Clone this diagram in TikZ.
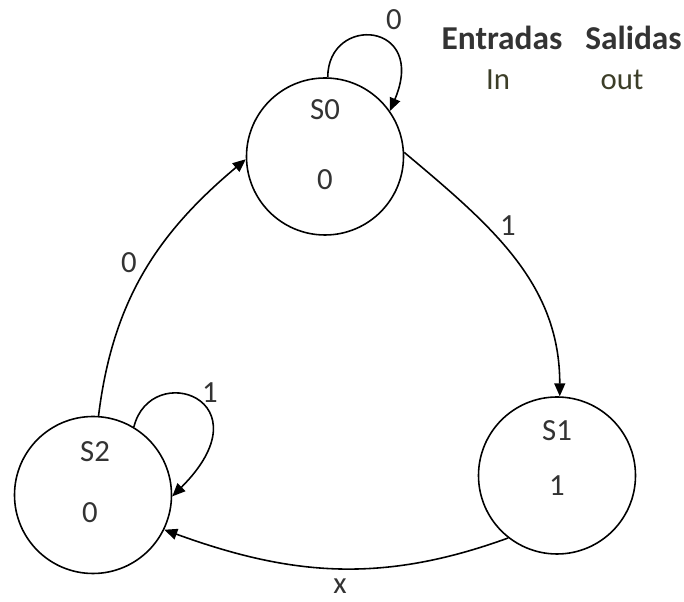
\documentclass[tikz,border=0pt]{standalone}
\usepackage{fontspec}
\setmainfont{Carlito}
\usetikzlibrary{arrows.meta}
\tikzset{
  state/.style={draw, circle, line width=0.9pt, minimum size=3.14cm, inner sep=0pt},
  txt/.style={text=black!80, font=\fontsize{17.5}{20}\selectfont, inner sep=1pt},
  head/.style={txt, font=\fontsize{19}{22}\selectfont\bfseries},
  edge/.style={line width=0.9pt, -{Triangle[length=2.6mm,width=2.2mm]}}
}
\begin{document}
\begin{tikzpicture}
	\useasboundingbox (0,0) rectangle (13.68,12.04);
	% estados
	\node[state] (s0) at (6.5,8.91) {};
	\node[state] (s1) at (11.14,2.53) {};
	\node[state] (s2) at (1.86,2.14) {};
	\node[txt] (s0name) at ([yshift=0.93cm]s0.center) {S0};
	\node[txt] (s0out) at ([yshift=-0.47cm]s0.center) {0};
	\node[txt] (s1name) at ([yshift=0.9cm]s1.center) {S1};
	\node[txt] (s1out) at ([yshift=-0.2cm]s1.center) {1};
	\node[txt] (s2name) at ([xshift=0.04cm,yshift=0.87cm]s2.center) {S2};
	\node[txt] (s2out) at ([xshift=-0.06cm,yshift=-0.36cm]s2.center) {0};
	% transiciones
	\draw[edge] (s0.88) .. controls +(0,1.26) and +(0.76,1.8) .. (s0.35);
	\draw[edge] (s0.3) to[out=-40,in=90] (s1.88);
	\draw[edge] (s1.-128) to[out=-160,in=-20] (s2.-26);
	\draw[edge] (s2.86) to[out=83,in=220] (s0.182);
	\draw[edge] (s2.59) .. controls +(0.34,1.36) and +(1.94,1.94) .. (s2.-1);
	% etiquetas
	\node[txt] (l00) at (7.88,11.64) {0};
	\node[txt] (l01) at (10.16,7.52) {1};
	\node[txt] (l12) at (6.8,0.32) {x};
	\node[txt] (l20) at (2.58,6.78) {0};
	\node[txt] (l22) at (4.2,4.18) {1};
	% tabla
	\node[head] (hin) at (10.04,11.28) {Entradas};
	\node[head] (hout) at (12.67,11.28) {Salidas};
	\node[txt, text={rgb,255:red,60;green,62;blue,40}] (vin) at (9.96,10.44) {In};
	\node[txt, text={rgb,255:red,60;green,62;blue,40}] (vout) at (12.44,10.44) {out};
\end{tikzpicture}
\end{document}
